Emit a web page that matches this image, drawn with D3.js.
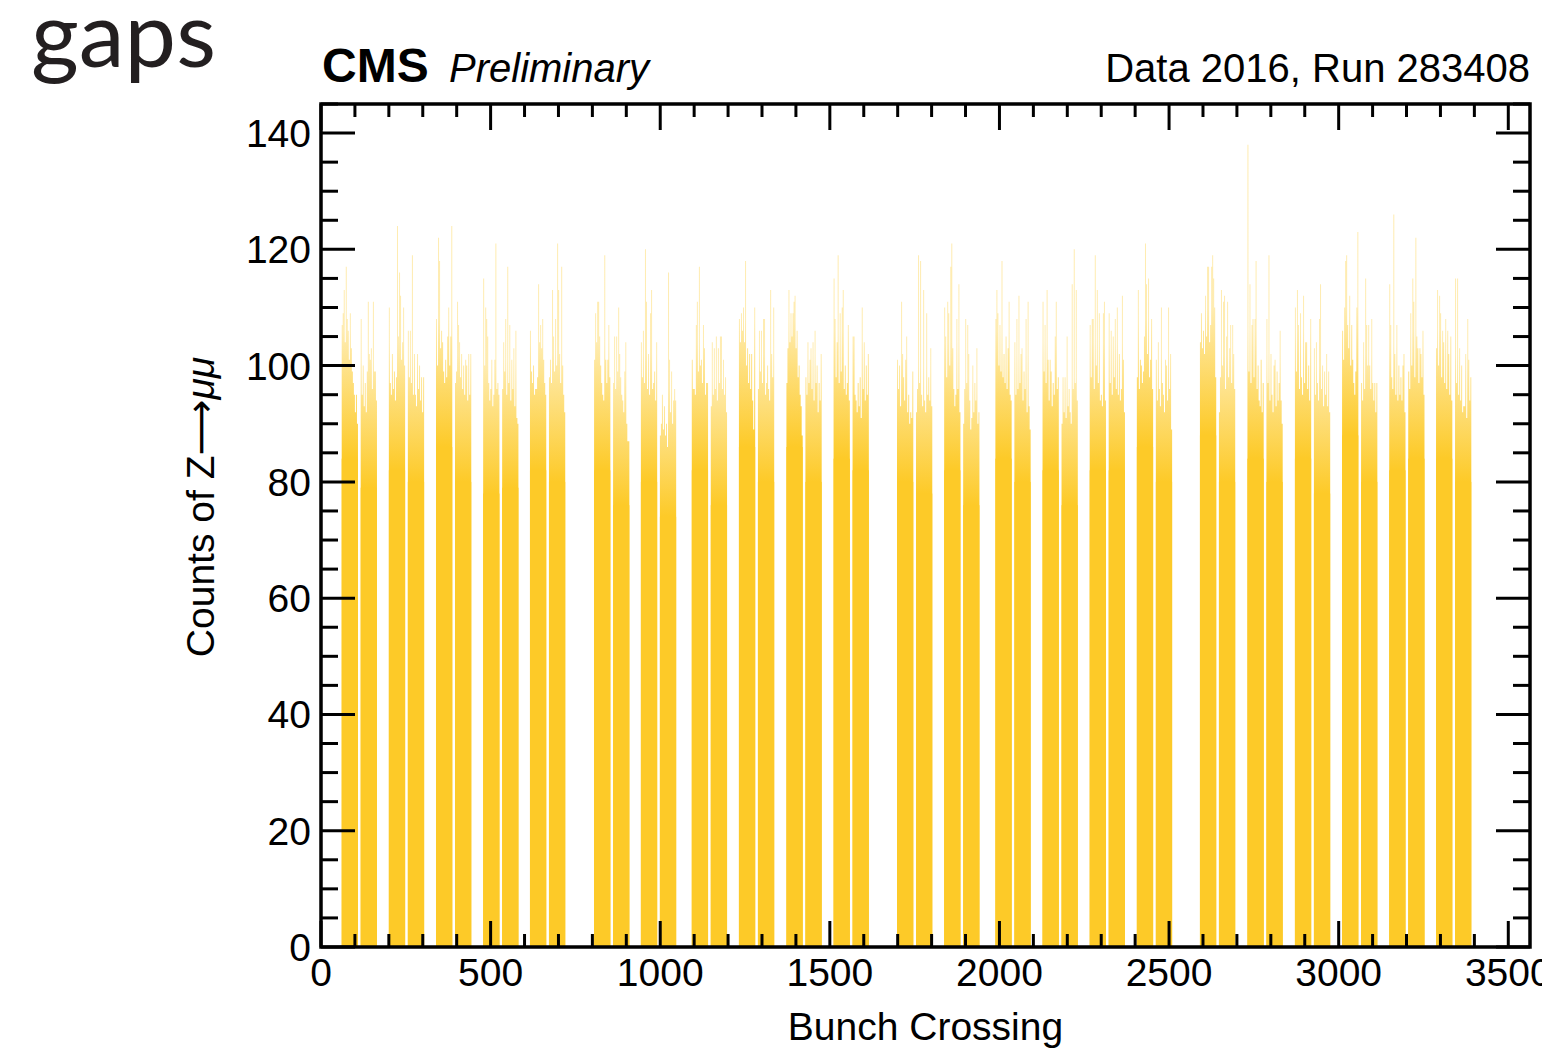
<!DOCTYPE html>
<html>
<head>
<meta charset="utf-8">
<script src="https://cdn.jsdelivr.net/npm/d3@7"></script>
<style>
  html, body { margin: 0; padding: 0; background: #fff; }
  svg { display: block; font-family: "Liberation Sans", Arial, Helvetica, sans-serif; }
</style>
</head>
<body>
<svg width="1542" height="1052"></svg>
<script>
// Bunch crossing of the first bunch of each 2x48 train
const trainStarts = [61, 200, 339, 478, 616,
                     805, 943, 1093, 1232, 1372, 1511,
                     1698, 1837, 1988, 2127, 2266, 2405,
                     2591, 2731, 2871, 3010, 3149, 3287];
// offsets of the two batches inside a train, and batch length (in BX)
const batchOffsets = [0, 56];
const batchLength = 48;

// counts level that is filled by (nearly) all bunches of a batch
const batchBase = [84, 79, 82, 80, 86, 80, 78, 79, 82, 80,
                   82, 76, 80, 74, 82, 76, 86, 80, 86, 80, 84, 82,
                   80, 78, 82, 76, 84, 80, 82, 76, 82, 82, 86, 80,
                   88, 80, 84, 80, 84, 78, 88, 80, 82, 84, 84, 80];

// highest counts in each group of 3 bunches (16 groups per batch)
const batchTips = [
  [107,109,113,104,117,108,106,101,109,103,99,97,95,92,95,90],
  [108,95,100,93,97,92,99,111,102,101,103,96,111,99,99,94],
  [110,97,95,102,96,99,94,98,124,105,116,112,101,104,110,100],
  [106,98,106,97,119,95,102,95,93,102,96,100,94,98,92,98],
  [108,100,122,118,103,106,104,99,97,101,98,105,110,100,105,124],
  [97,99,111,107,104,98,102,96,100,95,101,100,94,102,95,102],
  [115,100,110,108,105,97,94,96,101,93,95,101,121,96,97,95],
  [96,104,99,108,95,117,97,107,94,101,96,103,93,106,91,90],
  [106,99,97,100,95,96,96,98,114,104,107,103,108,101,97,95],
  [98,101,97,113,105,99,108,100,121,113,102,97,117,100,95,92],
  [101,109,104,111,111,105,100,97,95,94,119,101,97,101,107,98],
  [97,105,96,105,99,110,102,98,95,94,92,99,104,90,87,87],
  [104,98,106,97,120,111,96,102,95,109,113,96,97,99,94,104],
  [88,90,95,89,93,88,90,86,116,101,92,99,90,94,96,94],
  [101,96,96,95,107,111,99,117,100,101,97,107,103,95,97,97],
  [93,104,95,103,96,105,94,103,97,105,105,96,101,95,98,92],
  [108,104,109,106,110,104,118,100,103,97,102,96,102,94,89,110],
  [96,106,99,106,97,108,108,95,97,100,96,94,113,102,98,110],
  [97,103,113,104,109,105,109,111,112,103,106,98,100,95,93,88],
  [98,95,104,97,101,103,96,104,94,106,97,100,92,97,94,102],
  [115,108,98,104,119,97,109,99,110,113,96,100,95,97,107,94],
  [105,105,95,94,92,97,93,98,91,110,96,104,94,100,95,102],
  [101,96,100,93,111,102,98,94,101,105,92,95,90,92,91,99],
  [92,96,119,97,118,95,93,113,94,92,109,95,98,94,103,93],
  [110,105,98,111,109,100,117,121,103,96,93,95,108,96,114,92],
  [90,96,108,97,107,102,94,89,91,100,92,97,94,103,90,92],
  [108,113,109,100,107,99,118,98,102,97,105,96,103,111,95,94],
  [104,95,108,96,112,97,102,103,94,99,96,108,92,111,93,89],
  [111,99,107,97,113,101,94,101,99,93,97,95,105,111,96,98],
  [90,98,92,98,91,105,93,96,92,90,114,96,120,97,113,94],
  [107,98,108,108,96,119,100,113,97,109,94,95,93,109,111,94],
  [109,97,106,95,105,98,108,96,110,95,102,94,96,112,101,92],
  [98,113,96,101,100,97,99,105,121,114,102,115,98,101,108,96],
  [101,94,104,96,93,110,97,95,92,101,100,94,110,96,102,89],
  [104,109,103,106,102,112,105,117,117,104,107,117,119,115,110,98],
  [92,98,113,100,111,112,96,105,111,98,103,107,97,107,102,96],
  [138,99,114,97,107,108,98,108,118,96,100,94,93,101,92,97],
  [108,97,119,94,102,95,92,100,101,93,99,94,97,106,94,90],
  [110,99,113,107,96,109,98,95,112,97,104,104,96,100,94,108],
  [103,95,104,97,94,108,114,96,100,93,99,95,102,93,99,92],
  [106,101,110,118,119,107,103,112,100,107,101,97,95,99,110,123],
  [97,94,104,96,115,107,100,107,100,96,108,97,94,97,92,97],
  [114,107,98,96,126,102,95,107,94,100,95,98,94,100,102,92],
  [99,96,109,100,115,111,98,122,105,103,97,103,102,98,106,95],
  [103,113,100,112,109,98,106,104,97,108,96,106,102,95,105,94],
  [115,97,115,95,103,94,100,92,93,93,102,91,108,101,94,98]
];

const xTicks = [0, 500, 1000, 1500, 2000, 2500, 3000, 3500];
const yTicks = [0, 20, 40, 60, 80, 100, 120, 140];
const xRange = [0, 3564];
const yRange = [0, 145];

const fillColor = "#fdca28";

function buildBatches() {
    let batches = [];
    trainStarts.forEach(start => {
        batchOffsets.forEach(off => {
            const k = batches.length;
            batches.push({id: k, start: start + off, base: batchBase[k], tips: batchTips[k]});
        });
    });
    return batches;
}

function drawChart() {
    const svg = d3.select("svg");
    svg.selectAll('*').remove();

    const area = {left: 321, right: 1530, top: 104, bottom: 947};

    const scX = d3.scaleLinear().domain(xRange).range([area.left, area.right]);
    const scY = d3.scaleLinear().domain(yRange).range([area.bottom, area.top]);

    drawBars(svg, buildBatches(), scX, scY);
    drawFrame(svg, scX, scY, area);
    drawTexts(svg, scX, scY, area);
}

function drawBars(svg, batches, scX, scY) {
    // градиент: над сплошной частью всё меньше бинов, цвет бледнеет
    const defs = svg.append("defs");
    const grads = defs.selectAll("linearGradient")
        .data(batches)
        .enter()
        .append("linearGradient")
        .attr("id", d => "fade" + d.id)
        .attr("gradientUnits", "userSpaceOnUse")
        .attr("x1", 0).attr("x2", 0)
        .attr("y1", d => scY(d.base))
        .attr("y2", d => scY(d.base + 22));
    grads.append("stop").attr("offset", 0)
        .attr("stop-color", fillColor).attr("stop-opacity", 1);
    grads.append("stop").attr("offset", 1)
        .attr("stop-color", fillColor).attr("stop-opacity", 0.36);

    const g = svg.append("g");

    // сплошная часть пачки
    g.selectAll(".base")
        .data(batches)
        .enter()
        .append("rect")
        .attr("x", d => scX(d.start))
        .attr("width", d => scX(d.start + batchLength) - scX(d.start))
        .attr("y", d => scY(d.base))
        .attr("height", d => scY(0) - scY(d.base))
        .style("fill", fillColor);

    // пики - путь идёт от нуля, чтобы не было шва на уровне base
    const step = batchLength / 16;
    const tipArea = d3.area()
        .curve(d3.curveStepAfter)
        .x(p => scX(p.bx))
        .y0(scY(0))
        .y1(p => scY(p.v));

    g.selectAll(".tips")
        .data(batches)
        .enter()
        .append("path")
        .attr("d", d => {
            const pts = d.tips.map((v, i) => ({bx: d.start + i * step, v: v}));
            pts.push({bx: d.start + batchLength, v: d.tips[d.tips.length - 1]});
            return tipArea(pts);
        })
        .style("fill", d => "url(#fade" + d.id + ")");
}

function drawFrame(svg, scX, scY, area) {
    const g = svg.append("g").style("stroke", "#000").style("stroke-linecap", "butt");

    let xMinor = d3.range(100, xRange[1], 100).filter(v => v % 500 !== 0);
    let yMinor = d3.range(5, yRange[1] + 1, 5).filter(v => v % 20 !== 0);

    const xt = xTicks.map(v => ({v: v, len: 26})).concat(xMinor.map(v => ({v: v, len: 13})));
    const yt = yTicks.map(v => ({v: v, len: 34})).concat(yMinor.map(v => ({v: v, len: 17})));

    // нижние и верхние засечки
    [[area.bottom, -1], [area.top, 1]].forEach(([y0, dir]) => {
        g.selectAll(null)
            .data(xt)
            .enter()
            .append("line")
            .attr("x1", d => scX(d.v)).attr("x2", d => scX(d.v))
            .attr("y1", y0).attr("y2", d => y0 + dir * d.len)
            .style("stroke-width", 3);
    });

    // левые и правые засечки
    [[area.left, 1], [area.right, -1]].forEach(([x0, dir]) => {
        g.selectAll(null)
            .data(yt)
            .enter()
            .append("line")
            .attr("y1", d => scY(d.v)).attr("y2", d => scY(d.v))
            .attr("x1", x0).attr("x2", d => x0 + dir * d.len)
            .style("stroke-width", 3);
    });

    g.append("rect")
        .attr("x", area.left).attr("y", area.top)
        .attr("width", area.right - area.left)
        .attr("height", area.bottom - area.top)
        .style("fill", "none")
        .style("stroke-width", 3.5);
}

function drawTexts(svg, scX, scY, area) {
    svg.selectAll(".xlab")
        .data(xTicks)
        .enter()
        .append("text")
        .attr("x", d => scX(d))
        .attr("y", 986)
        .attr("text-anchor", "middle")
        .style("font-size", "39px")
        .text(d => d);

    svg.selectAll(".ylab")
        .data(yTicks)
        .enter()
        .append("text")
        .attr("x", area.left - 10)
        .attr("y", d => scY(d))
        .attr("dy", "0.36em")
        .attr("text-anchor", "end")
        .style("font-size", "39px")
        .text(d => d);

    svg.append("text")
        .attr("x", (area.left + area.right) / 2)
        .attr("y", 1040)
        .attr("text-anchor", "middle")
        .style("font-size", "39px")
        .text("Bunch Crossing");

    const yt = svg.append("text")
        .attr("transform", "translate(214, 507) rotate(-90)")
        .attr("text-anchor", "middle")
        .style("font-size", "39px");
    yt.append("tspan").text("Counts of Z");
    yt.append("tspan").style("font-family", "'DejaVu Sans', sans-serif").text("\u27f6");
    yt.append("tspan").style("font-style", "italic").text("\u03bc\u03bc");

    svg.append("text")
        .attr("x", 322).attr("y", 82)
        .style("font-size", "48px")
        .style("font-weight", "bold")
        .text("CMS");

    svg.append("text")
        .attr("x", 449).attr("y", 82)
        .style("font-size", "40px")
        .style("font-style", "italic")
        .text("Preliminary");

    svg.append("text")
        .attr("x", area.right).attr("y", 82)
        .attr("text-anchor", "end")
        .style("font-size", "40px")
        .text("Data 2016, Run 283408");

    svg.append("text")
        .attr("x", 31).attr("y", 67)
        .style("font-family", "Lato, 'Open Sans', sans-serif")
        .style("font-size", "92px")
        .style("fill", "#231f20")
        .text("gaps");
}

drawChart();
</script>
</body>
</html>
